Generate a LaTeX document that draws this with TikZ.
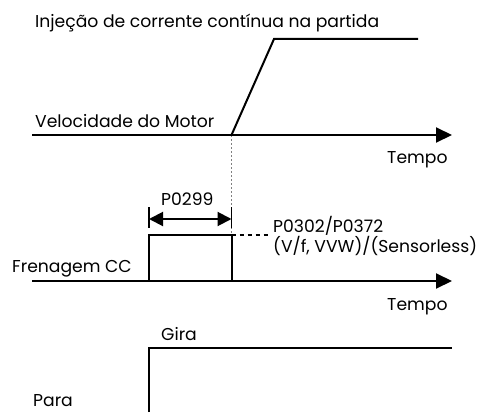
\documentclass[tikz,border=0pt]{standalone}
\usepackage{fontspec}
\setmainfont{Poppins}
\usetikzlibrary{arrows.meta}
\begin{document}
\begin{tikzpicture}[x=1pt,y=-1pt,
  lbl/.style={anchor=base west,inner sep=0pt,font=\fontsize{17.2}{19}\selectfont},
  sig/.style={line width=2pt,line join=miter},
  axis/.style={line width=2pt,-{Triangle[length=16pt,width=15pt]}},
  dim/.style={line width=2pt,{Triangle[length=14pt,width=14pt]}-{Triangle[length=14pt,width=14pt]}},
  guide/.style={line width=1pt,gray,dash pattern=on 2pt off 2pt},
  dotline/.style={line width=1.6pt,dash pattern=on 4pt off 4pt}]
\useasboundingbox (0,0) rectangle (481,412);
% coordinates
\coordinate (a1s) at (32,135);
\coordinate (a1e) at (452,135);
\coordinate (r0) at (231.5,135);
\coordinate (r1) at (274,39);
\coordinate (r2) at (418,39);
\coordinate (a2s) at (32,281);
\coordinate (a2e) at (452,281);
\coordinate (p0) at (149,281);
\coordinate (p1) at (149,235);
\coordinate (p2) at (231.5,235);
\coordinate (p3) at (231.5,281);
\coordinate (b1t) at (149,207);
\coordinate (b1b) at (149,228);
\coordinate (b2t) at (231.5,207);
\coordinate (b2b) at (231.5,228);
\coordinate (d1) at (149,219);
\coordinate (d2) at (231.5,219);
\coordinate (q0) at (231.5,235);
\coordinate (q1) at (268,235);
\coordinate (g0) at (149,412);
\coordinate (g1) at (149,348);
\coordinate (g2) at (452,348);
% texts
\node[lbl] (t1) at (35,28) {Injeção de corrente contínua na partida};
\node[lbl] (t2) at (35,127) {Velocidade do Motor};
\node[lbl] (t3) at (387,163) {Tempo};
\node[lbl] (t4) at (161,205) {P0299};
\node[lbl] (t5) at (273,232) {P0302/P0372};
\node[lbl] (t6) at (273,252) {(V/f, VVW)/(Sensorless)};
\node[lbl] (t7) at (12,272) {Frenagem CC};
\node[lbl] (t8) at (387,310) {Tempo};
\node[lbl] (t9) at (161,340) {Gira};
\node[lbl] (t10) at (33,406) {Para};
% drawing
\draw[guide] (r0) -- (p2);
\draw[axis] (a1s) -- (a1e);
\draw[sig] (r0) -- (r1) -- (r2);
\draw[axis] (a2s) -- (a2e);
\draw[sig] (p0) -- (p1) -- (p2) -- (p3);
\draw[line width=1.5pt] (b1t) -- (b1b);
\draw[line width=1.5pt] (b2t) -- (b2b);
\draw[dim] (d1) -- (d2);
\draw[dotline] (q0) -- (q1);
\draw[sig] (g0) -- (g1) -- (g2);
\end{tikzpicture}
\end{document}
